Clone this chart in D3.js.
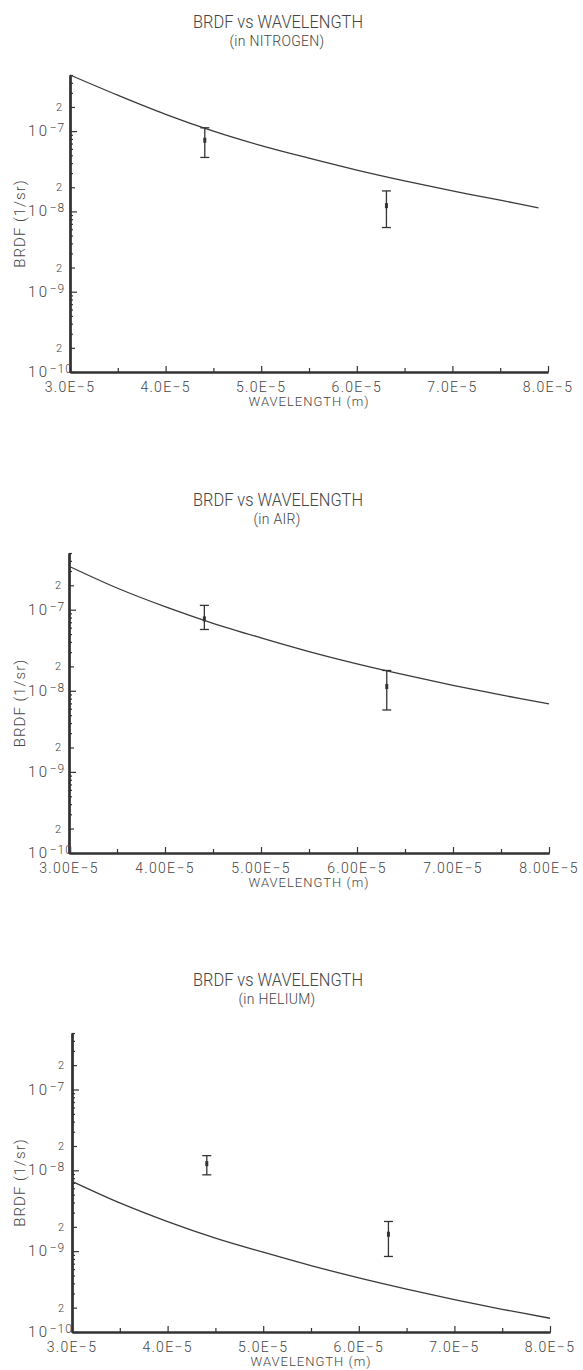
<!DOCTYPE html>
<html>
<head>
<meta charset="utf-8">
<script src="https://cdn.jsdelivr.net/npm/d3@7"></script>
<style>
  html, body { margin: 0; padding: 0; background: #fff; }
  svg { display: block; }
  text { font-family: Roboto, "Liberation Sans", sans-serif; font-weight: 300; fill: #444; }
</style>
</head>
<body>
<svg id="chart" width="583" height="1370"></svg>
<script>
// ---- data ----
const wavelengthMajor = [3e-5, 4e-5, 5e-5, 6e-5, 7e-5, 8e-5];
const wavelengthMinor = [3.5e-5, 4.5e-5, 5.5e-5, 6.5e-5, 7.5e-5];
const labelsOneDecimal = ["3.0E-5", "4.0E-5", "5.0E-5", "6.0E-5", "7.0E-5", "8.0E-5"];
const labelsTwoDecimals = ["3.00E-5", "4.00E-5", "5.00E-5", "6.00E-5", "7.00E-5", "8.00E-5"];
const decades = [1e-10, 1e-9, 1e-8, 1e-7];
const decadeExponents = ["-10", "-9", "-8", "-7"];

const subtitles = ["(in NITROGEN)", "(in AIR)", "(in HELIUM)"];

// theory curves, BRDF (1/sr) against wavelength (m)
const lambdaNitrogen = [3.0e-5, 3.5e-5, 4.0e-5, 4.5e-5, 5.0e-5, 5.5e-5, 6.0e-5, 6.5e-5, 7.0e-5, 7.5e-5, 7.9e-5];
const brdfNitrogen   = [5.0e-7, 2.8e-7, 1.62e-7, 1.0e-7, 6.6e-8, 4.6e-8, 3.27e-8, 2.4e-8, 1.8e-8, 1.38e-8, 1.11e-8];

const lambdaAir = [3.0e-5, 3.5e-5, 4.0e-5, 4.5e-5, 5.0e-5, 5.5e-5, 6.0e-5, 6.5e-5, 7.0e-5, 7.5e-5, 8.0e-5];
const brdfAir   = [3.43e-7, 1.85e-7, 1.09e-7, 6.8e-8, 4.5e-8, 3.05e-8, 2.15e-8, 1.57e-8, 1.17e-8, 8.9e-9, 6.9e-9];

const lambdaHelium = [3.0e-5, 3.5e-5, 4.0e-5, 4.5e-5, 5.0e-5, 5.5e-5, 6.0e-5, 6.5e-5, 7.0e-5, 7.5e-5, 8.0e-5];
const brdfHelium   = [7.3e-9, 3.95e-9, 2.32e-9, 1.45e-9, 9.7e-10, 6.62e-10, 4.68e-10, 3.4e-10, 2.52e-10, 1.91e-10, 1.48e-10];

// measurements with error bars
const measuredLambda = [4.41e-5, 6.31e-5];
const measNitrogen    = [7.7e-8, 1.18e-8];
const measNitrogenLow = [4.7e-8, 6.3e-9];
const measNitrogenHigh = [1.1e-7, 1.8e-8];
const measAir     = [7.7e-8, 1.13e-8];
const measAirLow  = [5.7e-8, 5.8e-9];
const measAirHigh = [1.13e-7, 1.78e-8];
const measHelium     = [1.21e-8, 1.62e-9];
const measHeliumLow  = [8.8e-9, 8.6e-10];
const measHeliumHigh = [1.52e-8, 2.33e-9];

// ---- panel layout ----
const frames = [
  { left: 70, right: 548, top: 75,   bottom: 372 },
  { left: 69, right: 549, top: 553,  bottom: 853 },
  { left: 72, right: 550, top: 1033, bottom: 1332 }
];

const panels = [
  { sub: subtitles[0], xl: labelsOneDecimal,  cl: lambdaNitrogen, cv: brdfNitrogen, m: measNitrogen, lo: measNitrogenLow, hi: measNitrogenHigh },
  { sub: subtitles[1], xl: labelsTwoDecimals, cl: lambdaAir,      cv: brdfAir,      m: measAir,      lo: measAirLow,      hi: measAirHigh },
  { sub: subtitles[2], xl: labelsOneDecimal,  cl: lambdaHelium,   cv: brdfHelium,   m: measHelium,   lo: measHeliumLow,   hi: measHeliumHigh }
];

const svg = d3.select("#chart");
const ink = "#333";

panels.forEach((p, i) => {
  const f = frames[i];
  const x = d3.scaleLinear().domain([3e-5, 8e-5]).range([f.left, f.right]);
  const y = d3.scaleLog().domain([1e-10, 5e-7]).range([f.bottom, f.top]);
  const g = svg.append("g");

  // titles
  g.append("text").attr("x", 278).attr("y", f.top - 47)
    .attr("text-anchor", "middle").style("font-size", "18px")
    .attr("textLength", 170).attr("lengthAdjust", "spacingAndGlyphs")
    .text("BRDF vs WAVELENGTH");
  g.append("text").attr("x", 277).attr("y", f.top - 29)
    .attr("text-anchor", "middle").style("font-size", "14px").style("letter-spacing", "0.3px")
    .text(p.sub);

  // y axis: minor ticks, "2" ticks, decade ticks, all pointing into the plot
  const allTicks = y.ticks();
  const twos = allTicks.filter(v => Math.abs(v / Math.pow(10, Math.floor(Math.log10(v) + 1e-9)) - 2) < 1e-6);
  const minors = allTicks.filter(v => !decades.some(d => Math.abs(v / d - 1) < 1e-6) && !twos.includes(v));

  const styleAxis = sel => {
    sel.selectAll("line").attr("stroke", ink).attr("stroke-width", 1.2);
    sel.select(".domain").attr("stroke", ink).attr("stroke-width", 2);
    sel.selectAll("text").remove();
  };

  g.append("g").attr("transform", `translate(${f.left},0)`)
    .call(d3.axisRight(y).tickValues(minors).tickSize(3).tickSizeOuter(0).tickFormat(""))
    .call(styleAxis);
  g.append("g").attr("transform", `translate(${f.left},0)`)
    .call(d3.axisRight(y).tickValues(twos).tickSize(5).tickSizeOuter(0).tickFormat(""))
    .call(styleAxis);
  g.append("g").attr("transform", `translate(${f.left},0)`)
    .call(d3.axisRight(y).tickValues(decades).tickSize(7).tickSizeOuter(0).tickFormat(""))
    .call(styleAxis);

  // y tick labels
  decades.forEach((d, k) => {
    const t = g.append("text").attr("x", 28).attr("y", y(d) + 5).style("font-size", "15px");
    t.append("tspan").style("letter-spacing", "2.5px").text("10");
    t.append("tspan").attr("dy", -4).style("font-size", "12px").style("letter-spacing", "1px")
      .text(decadeExponents[k].replace("-", "\u2212"));
  });
  twos.forEach(v => {
    g.append("text").attr("x", f.left - 8).attr("y", y(v) + 4)
      .attr("text-anchor", "end").style("font-size", "11px").text("2");
  });

  // y axis title
  g.append("text")
    .attr("transform", `translate(20,${(f.top + f.bottom) / 2}) rotate(-90)`)
    .attr("text-anchor", "middle").attr("dy", "0.35em")
    .style("font-size", "15px").style("letter-spacing", "1px")
    .text("BRDF (1/sr)");

  // x axis
  g.append("g").attr("transform", `translate(0,${f.bottom})`)
    .call(d3.axisTop(x).tickValues(wavelengthMinor).tickSize(4).tickSizeOuter(0).tickFormat(""))
    .call(styleAxis);
  g.append("g").attr("transform", `translate(0,${f.bottom})`)
    .call(d3.axisTop(x).tickValues(wavelengthMajor).tickSize(6).tickSizeOuter(0).tickFormat(""))
    .call(styleAxis);

  wavelengthMajor.forEach((v, k) => {
    g.append("text").attr("x", x(v)).attr("y", f.bottom + 20)
      .attr("text-anchor", "middle").style("font-size", "14px").style("letter-spacing", "1.3px")
      .text(p.xl[k].replace("-", "\u2212"));
  });
  g.append("text").attr("x", (f.left + f.right) / 2).attr("y", f.bottom + 34)
    .attr("text-anchor", "middle").style("font-size", "13px").style("letter-spacing", "1px")
    .text("WAVELENGTH (m)");

  // theory curve
  const pts = p.cl.map((l, k) => [l, p.cv[k]]);
  g.append("path").datum(pts)
    .attr("fill", "none").attr("stroke", "#3a3a3a").attr("stroke-width", 1.3)
    .attr("d", d3.line().x(d => x(d[0])).y(d => y(d[1])).curve(d3.curveCatmullRom));

  // measured points with error bars
  measuredLambda.forEach((l, k) => {
    const cx = x(l);
    const eb = g.append("g").attr("stroke", ink).attr("stroke-width", 1.3);
    eb.append("line").attr("x1", cx).attr("x2", cx).attr("y1", y(p.hi[k])).attr("y2", y(p.lo[k]));
    eb.append("line").attr("x1", cx - 4.5).attr("x2", cx + 4.5).attr("y1", y(p.hi[k])).attr("y2", y(p.hi[k]));
    eb.append("line").attr("x1", cx - 4.5).attr("x2", cx + 4.5).attr("y1", y(p.lo[k])).attr("y2", y(p.lo[k]));
    g.append("rect").attr("x", cx - 1.5).attr("y", y(p.m[k]) - 2.5).attr("width", 3).attr("height", 5).attr("fill", ink);
  });
});
</script>
</body>
</html>
